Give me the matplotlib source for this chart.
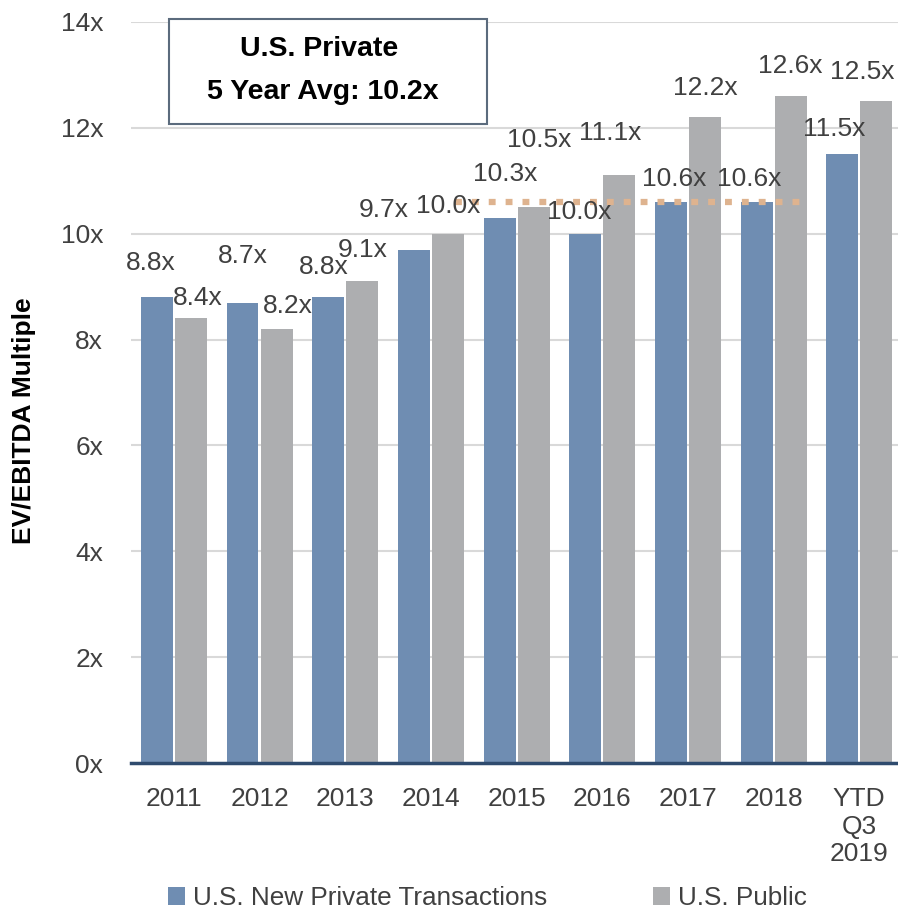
import numpy as np
import matplotlib.pyplot as plt
from matplotlib.patches import Rectangle

years = ["2011", "2012", "2013", "2014", "2015", "2016", "2017", "2018", "YTD\nQ3\n2019"]
private = [8.8, 8.7, 8.8, 9.7, 10.3, 10.0, 10.6, 10.6, 11.5]
public = [8.4, 8.2, 9.1, 10.0, 10.5, 11.1, 12.2, 12.6, 12.5]
avg_line = 10.6
avg_span = (3.28, 7.40)
yticks = [0, 2, 4, 6, 8, 10, 12, 14]

# label offsets in pixels (dx, dy) from the bar top to the label centre
priv_off = [(-6, 34), (0, 47), (-4, 30), (-30, 40), (6, 44), (-6, 22), (3, 23), (-7, 23), (-8, 25)]
pub_off = [(7, 20), (11, 23), (0, 31), (0, 28), (6, 67), (-9, 42), (0, 29), (0, 30), (-14, 29)]

plt.rcParams["font.family"] = ["Liberation Sans", "DejaVu Sans"]
text_col = "#404040"
blue = "#6F8DB2"
gray = "#ADAEB0"

fig = plt.figure(figsize=(8.98, 9.15), dpi=100)
ax = fig.add_axes([0.1459, 0.166, 0.8586, 0.810])

x = np.arange(len(years))
w = 0.373
ax.bar(x - w / 2 - 0.012, private, width=w, color=blue, zorder=3, label="U.S. New Private Transactions")
ax.bar(x + w / 2 + 0.012, public, width=w, color=gray, zorder=3, label="U.S. Public")

for i in range(len(years)):
    ax.annotate(f"{private[i]:.1f}x", (x[i] - w / 2 - 0.012, private[i]), xytext=priv_off[i],
                textcoords="offset pixels", ha="center", va="center", fontsize=19, color=text_col, zorder=5)
    ax.annotate(f"{public[i]:.1f}x", (x[i] + w / 2 + 0.012, public[i]), xytext=pub_off[i],
                textcoords="offset pixels", ha="center", va="center", fontsize=19, color=text_col, zorder=5)

ax.plot(avg_span, [avg_line, avg_line], color="#DEB38F", linewidth=4.5,
        linestyle=(0, (1.1, 1.6)), dash_capstyle="butt", zorder=4)

ax.set_xlim(-0.5, len(years) - 0.5)
ax.set_ylim(0, 14)
ax.set_yticks(yticks)
ax.set_yticklabels([f"{t}x" for t in yticks])
ax.set_xticks(x)
ax.set_xticklabels(years)
ax.tick_params(axis="both", length=0, labelsize=19, colors=text_col)
ax.tick_params(axis="x", pad=17)
ax.tick_params(axis="y", pad=20)
ax.grid(axis="y", color="#D9D9D9", linewidth=1.5, zorder=0)
for s in ["left", "right", "top"]:
    ax.spines[s].set_visible(False)
ax.spines["bottom"].set_color("#2F4B6E")
ax.spines["bottom"].set_linewidth(2.5)
ax.spines["bottom"].set_zorder(6)

fig.text(0.027, 0.54, "EV/EBITDA Multiple", rotation=90, ha="center", va="center",
         fontsize=19, fontweight="bold", color="black")

# annotation box
fig.patches.append(Rectangle((0.1882, 0.8645), 0.3541, 0.1148, transform=fig.transFigure,
                             facecolor="white", edgecolor="#5B6B7D", linewidth=1.5, zorder=10))
fig.text(0.355, 1 - 49 / 915, "U.S. Private", ha="center", va="center",
         fontsize=20.5, fontweight="bold", color="black", zorder=11)
fig.text(0.360, 1 - 92 / 915, "5 Year Avg: 10.2x", ha="center", va="center",
         fontsize=20.5, fontweight="bold", color="black", zorder=11)

fig.legend(loc="center left", bbox_to_anchor=(0.187, 1 - 898 / 915), ncol=2, frameon=False,
           fontsize=18.8, handlelength=0.65, handleheight=0.65, handletextpad=0.3,
           columnspacing=4.05, borderpad=0, borderaxespad=0, labelcolor=text_col)

fig.savefig("out.png", dpi=100)
